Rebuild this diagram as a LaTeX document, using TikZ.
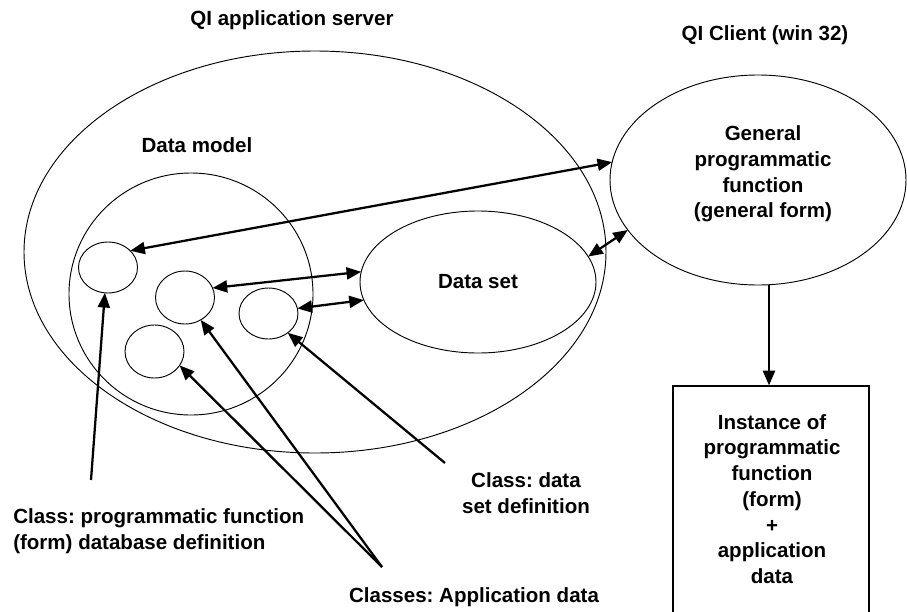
\documentclass[tikz,border=0pt]{standalone}
\usepackage{fontspec}
\setmainfont{Liberation Sans}
\usetikzlibrary{arrows.meta,shapes.geometric}
\begin{document}
\frenchspacing
\begin{tikzpicture}[x=0.75pt,y=-0.75pt,
  font=\bfseries\fontsize{15.4}{19.3}\selectfont,
  ell/.style={draw, ellipse, line width=0.7pt, inner sep=0pt, outer sep=0pt},
  arr/.style={line width=1.7pt, -{Triangle[length=11pt,width=9pt]}},
  darr/.style={line width=1.7pt, {Triangle[length=11pt,width=9pt]}-{Triangle[length=11pt,width=9pt]}},
  lbl/.style={inner sep=0pt, align=center}]
\useasboundingbox[fill=white] (0,0) rectangle (907,611);
% titles
\node[lbl] (t1) at (292,20) {QI application server};
\node[lbl] (t2) at (765,35) {QI Client (win 32)};
\node[lbl] (t3) at (197,145) {Data model};
% ellipses
\node[ell, minimum width={582*0.75pt}, minimum height={402*0.75pt}] (server) at (315,252) {};
\node[ell, minimum width={244*0.75pt}, minimum height={242*0.75pt}] (model) at (191,294) {};
\node[ell, minimum width={236*0.75pt}, minimum height={142*0.75pt}] (dataset) at (478,282) {Data set};
\node[ell, minimum width={296*0.75pt}, minimum height={210*0.75pt}] (client) at (758,180) {};
\node[lbl] (clienttext) at (763,174) {General\\programmatic\\function\\(general form)};
\node[ell, minimum width={59*0.75pt}, minimum height={51*0.75pt}] (c1) at (108,267.5) {};
\node[ell, minimum width={59*0.75pt}, minimum height={53*0.75pt}] (c2) at (185,297.5) {};
\node[ell, minimum width={59*0.75pt}, minimum height={53*0.75pt}] (c3) at (154.5,351.5) {};
\node[ell, minimum width={59*0.75pt}, minimum height={51*0.75pt}] (c4) at (268.5,313.5) {};
% box
\node[draw, line width=0.9pt, inner sep=0pt, minimum width={196*0.75pt}, minimum height={254*0.75pt}] (box) at (771,513) {};
\node[lbl] (boxtext) at (772,499) {Instance of\\programmatic\\function\\(form)\\+\\application\\data};
% labels
\node[lbl, anchor=west, align=left] (lab1) at (13,531) {Class: programmatic function\\(form) database definition};
\node[lbl] (lab2) at (526,493) {Class: data\\set definition};
\node[lbl] (lab3) at (474,597) {Classes: Application data};
\coordinate (p1) at (91,480);
\coordinate (p2) at (445,463);
\coordinate (p3) at (382,567);
% connectors
\draw[darr] (c1.37) -- (client.173);
\draw[darr] (dataset.13) -- (client.201);
\draw[darr] (c2.19) -- (dataset.175);
\draw[darr] (c4.10) -- (dataset.189);
\draw[arr] (client.276) -- (client.276 |- box.north);
\draw[arr] (p1) -- (c1.263);
\draw[arr] (p2) -- (c4.315);
\draw[arr] (p3) -- (c3.331);
\draw[arr] (p3) -- (c2.305);
\end{tikzpicture}
\end{document}
